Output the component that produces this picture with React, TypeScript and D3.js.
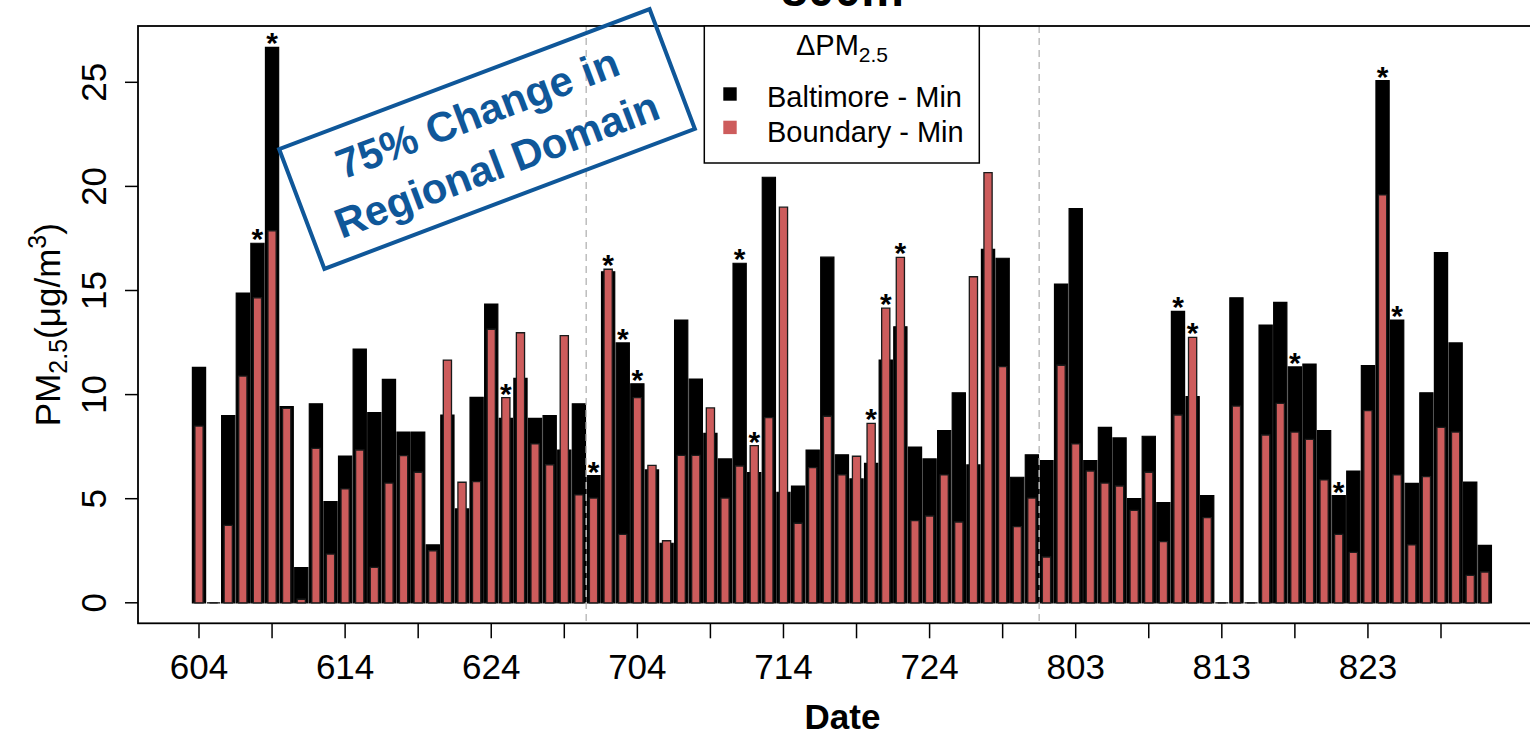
import React from "react";
import * as d3 from "d3";

// Daily series, 4 June – 31 August
const days = d3.timeDay.range(new Date(2011, 5, 4), new Date(2011, 8, 1));
const fmtDay = d3.timeFormat("%-m%d");
const dayLabels = days.map((d) => fmtDay(d));

// ΔPM2.5 (µg/m3), Baltimore minus minimum
const baltimoreMin = [
  11.31, 0, 8.99, 14.88, 17.27, 26.68, 9.42, 1.69, 9.56, 4.86,
  7.05, 12.19, 9.13, 10.73, 8.2, 8.2, 2.78, 9.02, 4.51, 9.87,
  14.35, 8.86, 10.78, 8.86, 8.99, 7.34, 9.56, 6.11, 15.9, 12.48,
  10.52, 6.38, 2.86, 13.58, 10.75, 8.14, 6.91, 16.31, 6.25, 20.44,
  5.31, 5.61, 7.34, 16.6, 7.11, 5.95, 6.7, 11.66, 13.26, 7.48,
  6.91, 8.27, 10.09, 6.62, 16.98, 16.55, 6.03, 7.11, 6.83, 15.31,
  18.93, 6.83, 8.43, 7.92, 5.0, 8.0, 4.81, 14.0, 9.9, 5.15,
  0, 14.65, 0, 13.34, 14.43, 11.33, 11.47, 8.27, 5.15, 6.33,
  11.39, 25.08, 13.58, 5.74, 10.09, 16.82, 12.48, 5.8, 2.76,
];

// ΔPM2.5 (µg/m3), boundary minus minimum
const boundaryMin = [
  8.49, 0, 3.72, 10.89, 14.65, 17.87, 9.34, 0.17, 7.42, 2.34,
  5.47, 7.34, 1.7, 5.75, 7.07, 6.27, 2.5, 11.66, 5.79, 5.82,
  13.14, 9.85, 12.97, 7.63, 6.63, 12.83, 5.18, 5.03, 16.02, 3.29,
  9.85, 6.6, 2.98, 7.08, 7.08, 9.36, 5.03, 6.57, 7.55, 8.89,
  19.0, 3.82, 6.49, 8.96, 6.15, 7.04, 8.62, 14.15, 16.59, 3.95,
  4.17, 6.14, 3.88, 15.66, 20.66, 11.34, 3.66, 5.03, 2.2, 11.41,
  7.63, 6.33, 5.75, 5.61, 4.44, 6.27, 2.94, 9.02, 12.75, 4.09,
  0, 9.45, 0, 8.06, 9.58, 8.2, 7.85, 5.9, 3.29, 2.42,
  9.23, 19.59, 6.14, 2.78, 6.06, 8.43, 8.2, 1.32, 1.48,
];

// days flagged as significant
const significantDays = [
  "608", "609", "625", "701", "702", "703", "704", "711", "712",
  "720", "721", "722", "810", "811", "818", "821", "824", "825",
];

// month boundaries (between these day pairs)
const monthBreaks = [["630", "701"], ["731", "801"]];

const xTickLabels = ["604", "614", "624", "704", "714", "724", "803", "813", "823"];
const yTicks = [0, 5, 10, 15, 20, 25];

const FONT = "'Liberation Sans', Arial, Helvetica, sans-serif";
const RED = "#CD5C5C";
const BLUE = "#0f5799";

export default function App() {
  const W = 1530;
  const H = 735;
  const plot = { left: 138, right: 1547, top: 26, bottom: 623.3 };

  const x = d3.scaleLinear().domain([0, 85]).range([199, 1441]);
  const y = d3.scaleLinear().domain([0, 25]).range([602.8, 82.3]);

  const idx = (lab: string) => dayLabels.indexOf(lab);
  const labelIdx = xTickLabels.map(idx);
  const tickIdx: number[] = [];
  labelIdx.forEach((i) => {
    tickIdx.push(i);
    if (i + 5 < days.length) tickIdx.push(i + 5);
  });

  const barPath = (cx: number, half: number, v: number) => {
    const x0 = cx - half;
    const x1 = cx + half;
    const y0 = y(0);
    const y1 = y(v);
    return `M${x0},${y0}H${x1}V${y1}H${x0}Z`;
  };

  const blackHalf = 6.6;
  const redHalf = 4.1;

  return (
    <div style={{ position: "absolute", left: 0, top: 0 }}>
      <svg width={W} height={H} style={{ display: "block", background: "#fff" }} fontFamily={FONT}>
        {/* title */}
        <text x={842.5} y={6} textAnchor="middle" fontSize={48} fontWeight="bold">
          800m
        </text>

        {/* black bars */}
        {baltimoreMin.map((v, i) => (
          <path key={"b" + i} d={barPath(x(i), blackHalf, v)} fill="#000" stroke="#000" strokeWidth={1.2} />
        ))}
        {/* red bars */}
        {boundaryMin.map((v, i) => (
          <path key={"r" + i} d={barPath(x(i), redHalf, v)} fill={RED} stroke="#1a1a1a" strokeWidth={1.3} />
        ))}

        {/* month separators */}
        {monthBreaks.map(([a, b], k) => {
          const xm = (x(idx(a)) + x(idx(b))) / 2;
          return (
            <line key={"m" + k} x1={xm} x2={xm} y1={plot.top} y2={plot.bottom}
              stroke="#bdbdbd" strokeWidth={1.5} strokeDasharray="7,5" />
          );
        })}

        {/* significance markers */}
        {significantDays.map((lab) => {
          const i = idx(lab);
          const top = Math.max(baltimoreMin[i], boundaryMin[i]);
          return (
            <text key={"s" + lab} x={x(i)} y={y(top) + 6} textAnchor="middle" fontSize={30} fontWeight="bold">
              *
            </text>
          );
        })}

        {/* plot frame */}
        <rect x={plot.left} y={plot.top} width={plot.right - plot.left} height={plot.bottom - plot.top}
          fill="none" stroke="#000" strokeWidth={1.8} />

        {/* x axis */}
        {tickIdx.map((i) => (
          <line key={"xt" + i} x1={x(i)} x2={x(i)} y1={plot.bottom} y2={plot.bottom + 15} stroke="#000" strokeWidth={1.5} />
        ))}
        {labelIdx.map((i, k) => (
          <text key={"xl" + k} x={x(i)} y={679} textAnchor="middle" fontSize={35}>
            {xTickLabels[k]}
          </text>
        ))}
        <text x={842.5} y={729} textAnchor="middle" fontSize={35} fontWeight="bold">
          Date
        </text>

        {/* y axis */}
        {yTicks.map((t) => (
          <g key={"yt" + t}>
            <line x1={plot.left - 13} x2={plot.left} y1={y(t)} y2={y(t)} stroke="#000" strokeWidth={1.5} />
            <text transform={`translate(106,${y(t)}) rotate(-90)`} textAnchor="middle" fontSize={35}>
              {t}
            </text>
          </g>
        ))}
        <text transform={`translate(60,${(plot.top + plot.bottom) / 2}) rotate(-90)`} textAnchor="middle" fontSize={35}>
          <tspan>PM</tspan>
          <tspan fontSize={25} dy={7}>2.5</tspan>
          <tspan dy={-7}>(μg/m</tspan>
          <tspan fontSize={25} dy={-14}>3</tspan>
          <tspan dy={14}>)</tspan>
        </text>

        {/* legend */}
        <rect x={704.3} y={26} width={275} height={137} fill="#fff" stroke="#000" strokeWidth={1.5} />
        <text x={842} y={55} textAnchor="middle" fontSize={29}>
          <tspan>ΔPM</tspan>
          <tspan fontSize={21} dy={7}>2.5</tspan>
        </text>
        <rect x={723.3} y={87.3} width={13.4} height={13.4} fill="#000" />
        <rect x={723.3} y={120.7} width={13.4} height={13.4} fill={RED} />
        <text x={767} y={107.3} fontSize={29}>Baltimore - Min</text>
        <text x={767} y={141.7} fontSize={29}>Boundary - Min</text>

        {/* annotation */}
        <g transform="translate(487,139) rotate(-20.7)">
          <rect x={-198} y={-64} width={396} height={128} fill="none" stroke={BLUE} strokeWidth={4} />
          <text x={0} y={-13} textAnchor="middle" fontSize={42} fontWeight="bold" fill={BLUE}>
            75% Change in
          </text>
          <text x={0} y={42} textAnchor="middle" fontSize={42} fontWeight="bold" fill={BLUE}>
            Regional Domain
          </text>
        </g>
      </svg>
    </div>
  );
}
